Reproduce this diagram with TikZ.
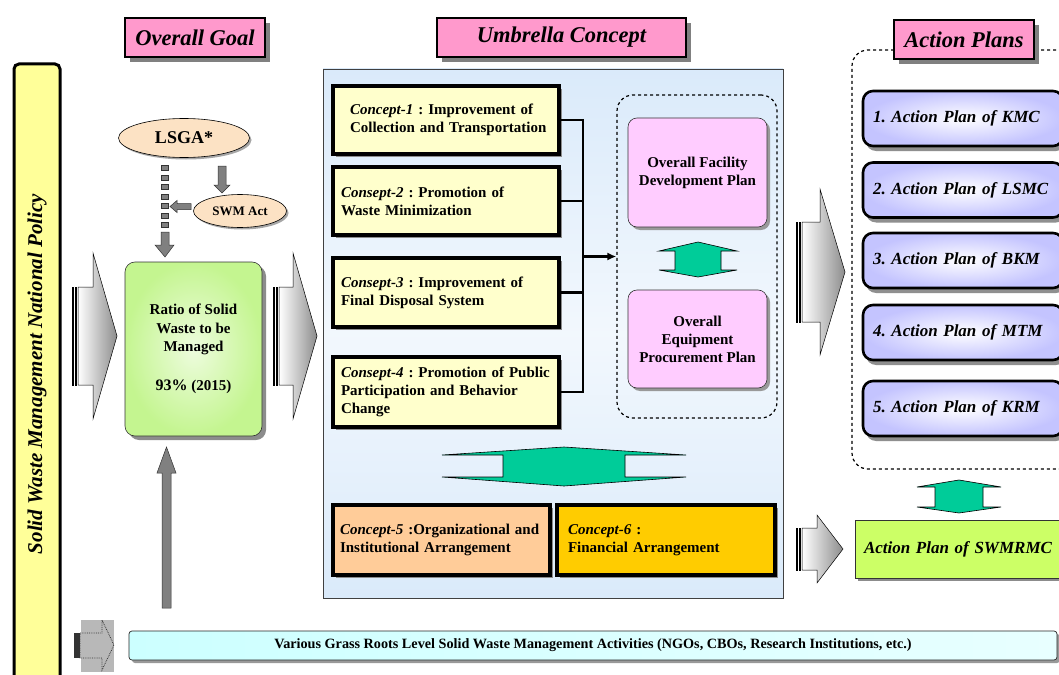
\documentclass[tikz,border=0pt]{standalone}
\usepackage{fontspec}
\setmainfont{Liberation Serif}
\usetikzlibrary{shadows,calc,arrows.meta,shapes.geometric}
\hyphenpenalty=10000
\exhyphenpenalty=10000
\frenchspacing

\definecolor{hdrpink}{HTML}{FF99CC}
\definecolor{baryellow}{HTML}{FFFF99}
\definecolor{cptyellow}{HTML}{FFFFCC}
\definecolor{cptpeach}{HTML}{FFCC99}
\definecolor{cptgold}{HTML}{FFCC00}
\definecolor{planpink}{HTML}{FFCCFF}
\definecolor{dblgreen}{HTML}{00CC99}
\definecolor{limegreen}{HTML}{CCFF66}
\definecolor{goalgreen}{HTML}{C4F590}
\definecolor{lavender}{HTML}{C4C4FF}
\definecolor{umbblue}{HTML}{DAEAFA}
\definecolor{ovalpeach}{HTML}{FCE2C4}
\definecolor{barcyan}{HTML}{CCFFFF}

% block arrow pointing right, with striped tail
% #1 tail x, #2 head base x, #3 tip x, #4 centre y, #5 body half height, #6 head half height
\newcommand\grayblockarrow[6]{%
  \shadedraw[left color=white, right color=black!40, draw=black, line width=0.5pt]
    ({#1-6},{#4-#5}) rectangle ({#1-4.6},{#4+#5});
  \shadedraw[left color=white, right color=black!40, draw=black, line width=0.5pt]
    ({#1-3.2},{#4-#5}) rectangle ({#1-1.8},{#4+#5});
  \shadedraw[left color=white, right color=black!45, draw=black, line width=0.5pt]
    (#1,{#4-#5}) -- (#2,{#4-#5}) -- (#2,{#4-#6}) -- (#3,#4) -- (#2,{#4+#6})
    -- (#2,{#4+#5}) -- (#1,{#4+#5}) -- cycle;
}
% up-down double arrow with flat heads
% #1 centre x, #2 top tip y, #3 top head base y, #4 bottom head base y, #5 bottom tip y,
% #6 head half width, #7 body half width
\newcommand\greendbl[7]{%
  \filldraw[fill=dblgreen, draw=black, line width=0.6pt]
    (#1,#2) -- ({#1+#6},#3) -- ({#1+#7},#3) -- ({#1+#7},#4) -- ({#1+#6},#4) -- (#1,#5)
    -- ({#1-#6},#4) -- ({#1-#7},#4) -- ({#1-#7},#3) -- ({#1-#6},#3) -- cycle;
}

\tikzset{
  hdr/.style={draw=black, line width=2.6pt, fill=hdrpink, minimum height=39pt,
    font=\bfseries\itshape\fontsize{22.5}{26}\selectfont,
    drop shadow={shadow xshift=5pt, shadow yshift=-5pt, fill=black!50, opacity=1}},
  cpt/.style={draw=black, line width=3.2pt, fill=cptyellow, minimum width=226pt,
    text width=210pt, align=left, inner sep=0pt,
    font=\bfseries\fontsize{15}{18}\selectfont,
    drop shadow={shadow xshift=3pt, shadow yshift=-3pt, fill=black!45, opacity=1}},
  planbox/.style={draw=black!80, line width=0.6pt, fill=planpink, rounded corners=9pt,
    minimum width=139pt, align=center, font=\bfseries\fontsize{15}{18}\selectfont,
    drop shadow={shadow xshift=3pt, shadow yshift=-3pt, fill=black!40, opacity=1}},
  actbox/.style={draw=black, line width=2.6pt, rounded corners=10pt,
    inner color=white, outer color=lavender, minimum width=200pt, minimum height=55pt,
    text width=180pt, align=left, inner sep=0pt,
    font=\bfseries\itshape\fontsize{17}{20}\selectfont,
    drop shadow={shadow xshift=3pt, shadow yshift=-5pt, fill=black!55, opacity=.8}},
  oval/.style={ellipse, draw=black, line width=0.6pt, fill=ovalpeach, inner sep=0pt,
    drop shadow={shadow xshift=2pt, shadow yshift=-2pt, fill=black!35, opacity=1}},
  fatgray/.style={fill=black!50, draw=black!80, line width=0.5pt},
  busline/.style={line width=2.3pt, black},
}

\begin{document}
\begin{tikzpicture}[x=1pt, y=-1pt]
\clip (0,0) rectangle (1059,674);
\fill[white] (0,0) rectangle (1059,674);

% ---------------- left policy bar ----------------
\node[draw=black, line width=3pt, fill=baryellow, rounded corners=5pt,
      minimum width=46pt, minimum height=626pt, inner sep=0pt] (policy) at (37,377) {};
\node[rotate=90, font=\bfseries\itshape\fontsize{21}{24}\selectfont] (policytext) at (37,374)
  {Solid Waste Management National Policy};

% ---------------- umbrella panel ----------------
\shade[top color=umbblue, bottom color=umbblue, middle color=umbblue!35]
  (323,69) rectangle (783,598);
\draw[black!75, line width=0.7pt] (323,69) rectangle (783,598);

% ---------------- headers ----------------
\node[hdr, minimum width=140pt] (hgoal) at (195,37.5) {Overall Goal};
\node[hdr, minimum width=249pt] (humb) at (561.5,37.5) {Umbrella Concept};

% ---------------- overall goal column ----------------
\node[oval, minimum width=131pt, minimum height=39pt, font=\bfseries\fontsize{18}{20}\selectfont]
  (lsga) at (184,138) {LSGA*};
\node[oval, minimum width=93pt, minimum height=33pt, font=\bfseries\fontsize{13}{15}\selectfont]
  (swm) at (240,211) {SWM Act};

% arrow LSGA -> SWM Act
\filldraw[fatgray] (218,166) -- (226,166) -- (226,185) -- (230,185) -- (222,193)
  -- (214,185) -- (218,185) -- cycle;
% broken column from LSGA down to the goal box
\foreach \yy in {168,177.5,187,196.5,206,215.5,225}
  \filldraw[fatgray] (161,{\yy-2.6}) rectangle (168,{\yy+2.6});
\filldraw[fatgray] (161,232) -- (169,232) -- (169,245) -- (174,245) -- (165,257)
  -- (155,245) -- (161,245) -- cycle;
% arrow SWM Act -> column
\filldraw[fatgray] (191,203.5) -- (177,203.5) -- (177,200.5) -- (170,206.5) -- (177,212.5)
  -- (177,209.5) -- (191,209.5) -- cycle;

\node[draw=black!80, line width=0.6pt, rounded corners=10pt, inner color=white!70!goalgreen,
      outer color=goalgreen, minimum width=137pt, minimum height=174pt, align=center,
      font=\bfseries\fontsize{15}{18.5}\selectfont,
      drop shadow={shadow xshift=4pt, shadow yshift=-4pt, fill=black!45, opacity=1}]
  (goal) at (193.5,349) {Ratio of Solid\\Waste to be\\Managed\\[20pt]{\fontsize{16}{18}\selectfont 93\%} (2015)};

% big block arrows either side of the goal box
\grayblockarrow{78}{93}{117}{336}{49}{83}
\grayblockarrow{279}{293}{317}{336}{49}{83}

% upward arrow from the grass roots level
\filldraw[fatgray] (162,608) -- (171,608) -- (171,473) -- (176,473) -- (166.5,447)
  -- (157,473) -- (162,473) -- cycle;

% ---------------- concepts ----------------
\node[cpt, minimum height=68pt] (c1) at (446,120)
  {\hspace*{9pt}\textit{Concept-1} : Improvement of\\\hspace*{9pt}Collection and Transportation};
\node[cpt, minimum height=68pt] (c2) at (446,201)
  {\textit{Consept-2} : Promotion of\\Waste Minimization};
\node[cpt, minimum height=69pt] (c3) at (446,292.5)
  {\textit{Consept-3} : Improvement of\\Final Disposal System};
\node[cpt, minimum height=70pt] (c4) at (446,392)
  {\textit{Consept-4} : Promotion of Public\\Participation and Behavior\\Change};

\node[cpt, fill=cptpeach, minimum width=217pt, minimum height=70pt, text width=203pt] (c5)
  at (441.5,540) {\textit{Concept-5} :Organizational and\\Institutional Arrangement};
\node[cpt, fill=cptgold, minimum width=218pt, minimum height=70pt, text width=196pt] (c6)
  at (666,540) {\textit{Concept-6} :\\Financial Arrangement};

\greendbl{564}{447}{455}{477}{486}{122}{61}

% plans inside the dashed frame
\node[draw=black, dashed, line width=1.2pt, rounded corners=16pt, minimum width=160pt,
      minimum height=323pt] (plans) at (697,256.5) {};
\node[planbox, minimum height=109pt] (facility) at (697.5,172.5)
  {Overall Facility\\Development Plan};
\node[planbox, minimum height=98pt] (equip) at (697.5,339)
  {Overall\\Equipment\\Procurement Plan};
\greendbl{698}{242}{251}{270}{277}{39}{23}

% bus joining the concepts to the plans
\coordinate (bus) at (583,0);
\draw[busline] (c1.east) -- (c1.east -| bus);
\draw[busline] (c2.east) -- (c2.east -| bus);
\draw[busline] (c3.east) -- (c3.east -| bus);
\draw[busline] (c4.east) -- (c4.east -| bus);
\draw[busline] ($(c1.east -| bus)+(0,-1.15)$) -- ($(c4.east -| bus)+(0,1.15)$);
\draw[busline, -{Latex[length=9pt,width=8pt]}] (plans.west -| bus) -- (plans.west);

% ---------------- action plans ----------------
\grayblockarrow{802}{820}{845}{272}{50}{83}

\draw[black, dashed, line width=1.2pt, rounded corners=16pt] (1080,50) -- (852,50) -- (852,469) -- (1080,469);
\node[hdr, minimum width=140pt] (hact) at (964,39.5) {Action Plans};

\node[actbox] (a1) at (963,118.5) {1. Action Plan of KMC};
\node[actbox] (a2) at (963,190) {2. Action Plan of LSMC};
\node[actbox] (a3) at (963,260.5) {3. Action Plan of BKM};
\node[actbox] (a4) at (963,332.5) {4. Action Plan of MTM};
\node[actbox] (a5) at (963,408.5) {5. Action Plan of KRM};

\greendbl{959}{480}{487}{507}{513}{42}{24}

\grayblockarrow{802}{817}{843}{549}{21}{34}
\node[draw=black!80, line width=0.6pt, fill=limegreen, minimum width=214pt, minimum height=58pt,
      text width=196pt, align=left, inner sep=0pt,
      font=\bfseries\itshape\fontsize{17}{20}\selectfont,
      drop shadow={shadow xshift=3pt, shadow yshift=-3pt, fill=black!45, opacity=1}]
  (swmrmc) at (962,549) {Action Plan of SWMRMC};

% ---------------- grass roots level ----------------
\fill[black!28] (81,620) rectangle (114,672);
\fill[black!80] (74,633) rectangle (80,658);
\draw[black!80, densely dotted, line width=0.8pt, fill=black!28]
  (80,633) -- (102,633) -- (102,620) -- (114,645) -- (102,670) -- (102,658) -- (80,658) -- cycle;
\node[draw=black!85, line width=0.7pt, rounded corners=3pt, left color=barcyan,
      right color=barcyan!45!white, minimum width=928pt, minimum height=29pt,
      font=\bfseries\fontsize{14.2}{16}\selectfont,
      drop shadow={shadow xshift=3pt, shadow yshift=-3pt, fill=black!40, opacity=1}]
  (grass) at (593,645.5)
  {Various Grass Roots Level Solid Waste Management Activities (NGOs, CBOs, Research Institutions, etc.)};

\end{tikzpicture}
\end{document}
